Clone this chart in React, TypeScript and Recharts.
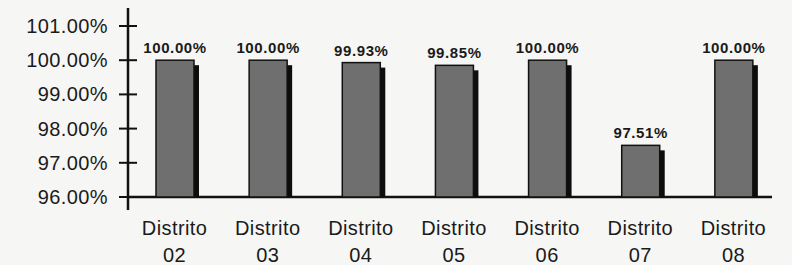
import { BarChart, Bar, XAxis, YAxis, LabelList, usePlotArea } from "recharts";

const districts = ["02", "03", "04", "05", "06", "07", "08"];
const coverage = [100.0, 100.0, 99.93, 99.85, 100.0, 97.51, 100.0];
const yTicks = [96, 97, 98, 99, 100, 101];

const data = districts.map((d, i) => ({ name: d, value: coverage[i] }));

const FONT = "Liberation Sans, Arial, sans-serif";

function YTick(props: any) {
  const { x, y, payload } = props;
  return (
    <g>
      <line x1={x - 9} x2={x + 9} y1={y} y2={y} stroke="#111" strokeWidth={2} />
      <text
        x={x - 20}
        y={y}
        textAnchor="end"
        dominantBaseline="central"
        fontFamily={FONT}
        fontSize={20}
        letterSpacing={0.4}
        fill="#1a1a1a"
      >
        {payload.value.toFixed(2) + "%"}
      </text>
    </g>
  );
}

function XTick(props: any) {
  const { x, y, payload } = props;
  return (
    <g fontFamily={FONT} fontSize={20} letterSpacing={0.4} fill="#1a1a1a">
      <text x={x} y={y + 31} textAnchor="middle" dominantBaseline="central">
        Distrito
      </text>
      <text x={x} y={y + 58} textAnchor="middle" dominantBaseline="central">
        {payload.value}
      </text>
    </g>
  );
}

function ShadowBar(props: any) {
  const { x, y, width, height } = props;
  return (
    <g>
      <rect x={x + 5} y={y + 5} width={width} height={height - 5} fill="#0d0d0d" />
      <rect
        x={x}
        y={y}
        width={width}
        height={height}
        fill="#6f6f6f"
        stroke="#111"
        strokeWidth={1.5}
      />
    </g>
  );
}

function AxisLines() {
  const area = usePlotArea();
  if (!area) return null;
  const { x, y, width, height } = area;
  return (
    <g stroke="#111" strokeWidth={2.5}>
      <line x1={x} x2={x} y1={y - 18} y2={y + height + 13} />
      <line x1={x} x2={x + width - 8} y1={y + height} y2={y + height} />
    </g>
  );
}

export default function App() {
  return (
    <div
      style={{
        position: "fixed",
        left: 0,
        top: 0,
        width: 792,
        height: 265,
        background: "#f6f6f5",
      }}
    >
      <BarChart
        width={792}
        height={265}
        data={data}
        margin={{ top: 26, right: 12, bottom: 0, left: 8 }}
        barSize={38}
      >
        <XAxis
          dataKey="name"
          axisLine={false}
          tickLine={false}
          tickSize={0}
          tickMargin={0}
          height={68}
          tick={<XTick />}
          interval={0}
        />
        <YAxis
          domain={[96, 101]}
          ticks={yTicks}
          axisLine={false}
          tickLine={false}
          tickSize={0}
          tickMargin={0}
          width={120}
          tick={<YTick />}
        />
        <Bar dataKey="value" isAnimationActive={false} shape={<ShadowBar />}>
          <LabelList
            dataKey="value"
            position="top"
            offset={7}
            formatter={(v: any) => Number(v).toFixed(2) + "%"}
            style={{
              fontFamily: FONT,
              fontSize: 15,
              fontWeight: "bold",
              letterSpacing: 0.6,
              fill: "#1a1a1a",
            }}
          />
        </Bar>
        <AxisLines />
      </BarChart>
    </div>
  );
}
